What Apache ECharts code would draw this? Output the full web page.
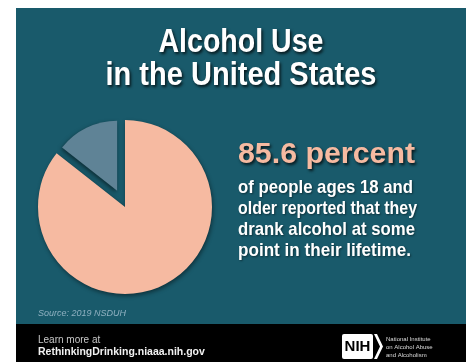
<!DOCTYPE html>
<html><head><meta charset="utf-8">
<script src="https://cdn.jsdelivr.net/npm/echarts@6/dist/echarts.min.js"></script>
<style>html,body{margin:0;padding:0;background:#fff}#c{width:466px;height:362px}</style>
</head><body><div id="c"></div>
<script>
const categories = ['Drank alcohol in lifetime', 'Did not drink alcohol'];
const values = [85.6, 14.4];
const titleLines = ['Alcohol Use', 'in the United States'];
const headline = '85.6 percent';
const bodyLines = ['of people ages 18 and', 'older reported that they', 'drank alcohol at some', 'point in their lifetime.'];
const source = 'Source: 2019 NSDUH';
const footerLines = ['Learn more at', 'RethinkingDrinking.niaaa.nih.gov'];
const logoLines = ['National Institute', 'on Alcohol Abuse', 'and Alcoholism'];

const TEAL = '#195a6b', SALMON = '#f6baa1', SLATE = '#5f8396';
const FONT = '"Liberation Sans",Arial,sans-serif';
const mctx = document.createElement('canvas').getContext('2d');
function fit(text, font, width){ mctx.font = font; return width / mctx.measureText(text).width; }

const chart = echarts.init(document.getElementById('c'));
const shadow = {textShadowColor:'rgba(0,0,0,0.75)', textShadowBlur:3, textShadowOffsetX:1.5, textShadowOffsetY:2};
const graphics = [
  {type:'rect', z:-10, shape:{x:16,y:8,width:450,height:316}, style:{fill:TEAL}},
  {type:'rect', z:-10, shape:{x:16,y:324,width:450,height:38}, style:{fill:'#000'}},
];
const titleFont = 'bold 33px ' + FONT;
const titleW = [165, 271];
titleLines.forEach((t,i)=>graphics.push({type:'text', x:241, y:42.5+i*33.5, scaleX:fit(t,titleFont,titleW[i]),
  style:Object.assign({text:t, fill:'#fff', font:titleFont, align:'center', verticalAlign:'middle'}, shadow)}));
const headFont = 'bold 29px ' + FONT;
graphics.push({type:'text', x:238, y:155, scaleX:fit(headline,headFont,177),
  style:Object.assign({text:headline, fill:SALMON, font:headFont, align:'left', verticalAlign:'middle'}, shadow)});
const bodyFont = 'bold 19px ' + FONT;
const bodyW = [175, 179, 177, 173];
bodyLines.forEach((t,i)=>graphics.push({type:'text', x:238, y:188+i*21, scaleX:fit(t,bodyFont,bodyW[i]),
  style:{text:t, fill:'#fff', font:bodyFont, align:'left', verticalAlign:'middle', textShadowColor:'rgba(0,0,0,0.45)', textShadowBlur:2, textShadowOffsetX:1, textShadowOffsetY:1}}));
graphics.push({type:'text', x:38, y:313, style:{text:source, fill:'#8fb0c0', font:'italic 9px ' + FONT, verticalAlign:'middle'}});
graphics.push({type:'text', x:38, y:340, style:{text:footerLines[0], fill:'#c8c8c8', font:'10px ' + FONT, verticalAlign:'middle'}});
graphics.push({type:'text', x:38, y:352.5, style:{text:footerLines[1], fill:'#f2f2f2', font:'bold 10.5px ' + FONT, verticalAlign:'middle'}});
// NIH logo
graphics.push({type:'rect', shape:{x:342,y:334,width:31,height:25,r:2}, style:{fill:'#fff'}});
graphics.push({type:'polygon', shape:{points:[[374,334],[377,334],[383,346.5],[377,359],[374,359],[380,346.5]]}, style:{fill:'#fff'}});
graphics.push({type:'text', x:357.5, y:347, style:{text:'NIH', fill:'#000', font:'bold 15px ' + FONT, align:'center', verticalAlign:'middle'}});
logoLines.forEach((t,i)=>graphics.push({type:'text', x:386, y:339+i*8, style:{text:t, fill:'#dcdcdc', font:'6px ' + FONT, verticalAlign:'middle'}}));

const clear = {color:'rgba(0,0,0,0)', borderWidth:0, shadowBlur:0};
chart.setOption({
  animation:false,
  backgroundColor:'#fff',
  graphic:graphics,
  series:[
    {type:'pie', silent:true, center:[125,207], radius:87, startAngle:90, clockwise:true, label:{show:false}, labelLine:{show:false},
     data:[
      {name:categories[0], value:values[0], itemStyle:{color:SALMON, shadowBlur:4, shadowColor:'rgba(0,0,0,0.45)', shadowOffsetX:1, shadowOffsetY:2}},
      {name:categories[1], value:values[1], itemStyle:clear}
     ]},
    {type:'pie', silent:true, center:[125,207], radius:70, startAngle:90, clockwise:true, selectedMode:'single', selectedOffset:18, label:{show:false}, labelLine:{show:false},
     data:[
      {name:categories[0], value:values[0], itemStyle:clear},
      {name:categories[1], value:values[1], selected:true, itemStyle:{color:SLATE, shadowBlur:4, shadowColor:'rgba(0,0,0,0.5)', shadowOffsetX:-1, shadowOffsetY:2}}
     ]}
  ]
});
</script></body></html>
